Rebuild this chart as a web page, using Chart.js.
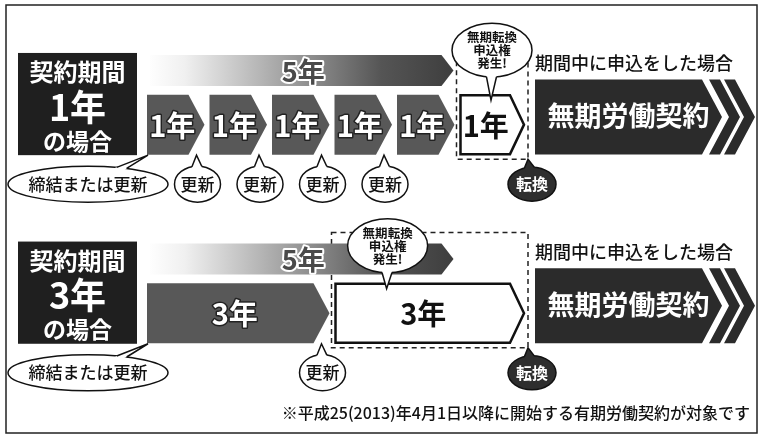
<!DOCTYPE html>
<html lang="ja">
<head>
<meta charset="utf-8">
<title>無期転換ルール</title>
<script src="https://cdn.jsdelivr.net/npm/chart.js@4.4.1/dist/chart.umd.min.js"></script>
<style>
    body { margin: 0; background: #fff; }
    #wrap { width: 760px; height: 439px; }
</style>
</head>
<body>
<div id="wrap"><canvas id="chart" width="760" height="439"></canvas></div>
<script>
// 契約期間ごとの行
const rowTerms = ['1年', '3年'];
// 有期労働契約の各期間（年）
const contractSpans = [
    [[0, 1], [1, 2], [2, 3], [3, 4], [4, 5]],
    [[0, 3]]
];
const contractLabels = [['1年', '1年', '1年', '1年', '1年'], ['3年']];
// 通算5年の帯
const totalSpans = [[0, 5], [0, 5]];
const totalLabel = '5年';
// 無期転換申込権が発生する期間
const applySpans = [[5, 6], [3, 6]];
const applyLabels = ['1年', '3年'];
// 無期労働契約
const mukiSpans = [[6, 9.2], [6, 9.2]];
const mukiLabel = '無期労働契約';
// 更新・転換の時点
const renewAt = [[1, 2, 3, 4], [3]];
const tenkanAt = [6, 6];

const noteText = '※平成25(2013)年4月1日以降に開始する有期労働契約が対象です';

// レイアウト（行の位置など）
const rowLane = [0, 3.48];
const applyNote = [{ at: 5.52, dy: -44 }, { at: 3.85, dy: -37 }];
const JP = '"Noto Sans CJK JP", "Noto Sans", sans-serif';

function buildData() {
    let band = [], contract = [], apply = [], muki = [];
    rowTerms.forEach(function (t, r) {
        band.push({ x: totalSpans[r], y: rowLane[r], row: r });
        contractSpans[r].forEach(function (s, j) {
            contract.push({ x: s, y: rowLane[r] + 1, row: r, label: contractLabels[r][j] });
        });
        apply.push({ x: applySpans[r], y: rowLane[r] + 1, row: r, label: applyLabels[r] });
        muki.push({ x: mukiSpans[r], y: rowLane[r] + 0.86, row: r });
    });
    return { band: band, contract: contract, apply: apply, muki: muki };
}

function geom(chart, i) {
    let meta = chart.getDatasetMeta(i);
    return meta.data.map(function (el, j) {
        let p = el.getProps(['x', 'y', 'base', 'height'], true);
        return {
            x0: Math.min(p.base, p.x), x1: Math.max(p.base, p.x),
            y: p.y, h: p.height, raw: chart.data.datasets[i].data[j]
        };
    });
}

function chevron(ctx, x0, x1, yc, h, tip) {
    ctx.beginPath();
    ctx.moveTo(x0, yc - h / 2);
    ctx.lineTo(x1 - tip, yc - h / 2);
    ctx.lineTo(x1, yc);
    ctx.lineTo(x1 - tip, yc + h / 2);
    ctx.lineTo(x0, yc + h / 2);
    ctx.closePath();
}

function text(ctx, s, x, y, font, fill, stroke, sw, align) {
    ctx.save();
    ctx.font = font;
    ctx.textAlign = align || 'center';
    ctx.textBaseline = 'middle';
    if (stroke) {
        ctx.lineJoin = 'round';
        ctx.strokeStyle = stroke;
        ctx.lineWidth = sw;
        ctx.strokeText(s, x, y);
    }
    ctx.fillStyle = fill;
    ctx.fillText(s, x, y);
    ctx.restore();
}

function bubble(ctx, cx, cy, rx, ry, tx, ty, fill, lw) {
    let th = Math.atan2((ty - cy) / ry, (tx - cx) / rx);
    let len = Math.sqrt(Math.pow(rx * Math.sin(th), 2) + Math.pow(ry * Math.cos(th), 2));
    let d = 5 / len;
    let b1 = [cx + rx * Math.cos(th - d), cy + ry * Math.sin(th - d)];
    let b2 = [cx + rx * Math.cos(th + d), cy + ry * Math.sin(th + d)];
    ctx.save();
    ctx.fillStyle = fill;
    ctx.strokeStyle = '#111';
    ctx.lineWidth = lw;
    ctx.beginPath();
    ctx.ellipse(cx, cy, rx, ry, 0, 0, Math.PI * 2);
    ctx.fill();
    ctx.stroke();
    ctx.beginPath();
    ctx.moveTo(b1[0], b1[1]);
    ctx.lineTo(tx, ty);
    ctx.lineTo(b2[0], b2[1]);
    ctx.lineTo(cx, cy);
    ctx.closePath();
    ctx.fill();
    ctx.beginPath();
    ctx.moveTo(b1[0], b1[1]);
    ctx.lineTo(tx, ty);
    ctx.lineTo(b2[0], b2[1]);
    ctx.stroke();
    ctx.restore();
}

const diagramPlugin = {
    id: 'diagram',
    afterDatasetsDraw: function (chart) {
        const ctx = chart.ctx;
        const xs = chart.scales.x;
        let band = geom(chart, 0), contract = geom(chart, 1), apply = geom(chart, 2), muki = geom(chart, 3);

        // 外枠
        ctx.save();
        ctx.strokeStyle = '#222';
        ctx.lineWidth = 1.5;
        ctx.strokeRect(6, 5, 751, 428);
        ctx.restore();

        rowTerms.forEach(function (term, r) {
            let b = band[r], a = apply[r], m = muki[r];
            let mainTop = a.y - a.h / 2, mainBottom = a.y + a.h / 2;
            let bandTop = b.y - b.h / 2;
            let x0 = xs.getPixelForValue(0);

            // 左の見出し
            ctx.fillStyle = '#1f1f1f';
            ctx.fillRect(x0 - 129, bandTop - 2, 119, mainBottom - bandTop + 2);
            let cx = x0 - 69.5;
            text(ctx, '契約期間', cx, bandTop + 17, 'bold 24px ' + JP, '#fff');
            text(ctx, term, cx, bandTop + 52, 'bold 36px ' + JP, '#fff');
            text(ctx, 'の場合', cx, bandTop + 86, 'bold 23px ' + JP, '#fff');

            // 破線の枠
            ctx.save();
            ctx.setLineDash([5, 4]);
            ctx.strokeStyle = '#222';
            ctx.lineWidth = 1.5;
            ctx.strokeRect(a.x0 - 3, bandTop - 11, a.x1 - a.x0 + 9, mainBottom + 4 - (bandTop - 11));
            ctx.restore();

            // 5年の帯
            let g = ctx.createLinearGradient(b.x0, 0, b.x1, 0);
            g.addColorStop(0, 'rgba(255,255,255,1)');
            g.addColorStop(0.12, '#f0f0f0');
            g.addColorStop(0.45, '#a0a0a0');
            g.addColorStop(0.75, '#555');
            g.addColorStop(1, '#3c3c3c');
            ctx.fillStyle = g;
            chevron(ctx, b.x0 + 3, b.x1 - 6, b.y, b.h, 12);
            ctx.fill();
            text(ctx, totalLabel, (b.x0 + b.x1) / 2, b.y + 1, 'bold 27px ' + JP, '#4a4a4a', '#fff', 4);

            // 申込権発生の期間（白）
            ctx.save();
            ctx.fillStyle = '#fff';
            ctx.strokeStyle = '#111';
            ctx.lineWidth = 2.5;
            chevron(ctx, a.x0 + 1, a.x1 + 2, a.y, a.h - 2, 14);
            ctx.fill();
            ctx.stroke();
            ctx.restore();
            text(ctx, a.raw.label, (a.x0 + a.x1 - 10) / 2, a.y + 1, 'bold 29px ' + JP, '#111');

            // 無期労働契約
            let mx0 = m.x0 + 13, tip = 20;
            ctx.fillStyle = '#2b2b2b';
            chevron(ctx, mx0, m.x1, m.y, m.h, tip);
            ctx.fill();
            [7, 22].forEach(function (off) {
                let w = 11, top = m.y - m.h / 2, bot = m.y + m.h / 2;
                ctx.beginPath();
                ctx.moveTo(m.x1 - tip + off, top);
                ctx.lineTo(m.x1 - tip + off + w, top);
                ctx.lineTo(m.x1 + off + w, m.y);
                ctx.lineTo(m.x1 - tip + off + w, bot);
                ctx.lineTo(m.x1 - tip + off, bot);
                ctx.lineTo(m.x1 + off, m.y);
                ctx.closePath();
                ctx.fill();
            });
            text(ctx, mukiLabel, (mx0 + m.x1) / 2, m.y - 1, 'bold 27px ' + JP, '#fff');
            text(ctx, '期間中に申込をした場合', mx0, m.y - m.h / 2 - 16, '500 18px ' + JP, '#111', null, 0, 'left');
        });

        // 有期契約の各期間
        contract.forEach(function (c) {
            ctx.fillStyle = '#585858';
            chevron(ctx, c.x0, c.x1 - 5, c.y, c.h, 16);
            ctx.fill();
            text(ctx, c.raw.label, (c.x0 + c.x1 - 12) / 2, c.y + 1, 'bold 29px ' + JP, '#fff', '#222', 3);
        });

        // 吹き出し
        rowTerms.forEach(function (term, r) {
            let a = apply[r];
            let mainTop = a.y - a.h / 2, mainBottom = a.y + a.h / 2;
            let by = mainBottom + 29;
            let x0 = xs.getPixelForValue(0);

            bubble(ctx, x0 - 59, by, 80, 18, x0 + 1, mainBottom, '#fff', 1.5);
            text(ctx, '締結または更新', x0 - 59, by, '500 17px ' + JP, '#111');

            renewAt[r].forEach(function (t) {
                let px = xs.getPixelForValue(t);
                bubble(ctx, px - 12, by, 23, 18, px - 13, mainBottom, '#fff', 1.5);
                text(ctx, '更新', px - 12, by, '500 17px ' + JP, '#111');
            });

            let tx = xs.getPixelForValue(tenkanAt[r]);
            bubble(ctx, tx + 10, by, 24, 17, tx + 6, mainBottom + 4, '#2e2e2e', 1.5);
            text(ctx, '転換', tx + 10, by, 'bold 16px ' + JP, '#fff');

            let nx = xs.getPixelForValue(applyNote[r].at);
            let ny = mainTop + applyNote[r].dy;
            bubble(ctx, nx, ny, 40, 27, nx - 1, mainTop + 6, '#fff', 1.5);
            text(ctx, '無期転換', nx, ny - 13, 'bold 12.5px ' + JP, '#111');
            text(ctx, '申込権', nx, ny, 'bold 12.5px ' + JP, '#111');
            text(ctx, '発生!', nx, ny + 13, 'bold 12.5px ' + JP, '#111');
        });

        // 注記
        text(ctx, noteText, 750, 413, '500 16px ' + JP, '#111', null, 0, 'right');
    }
};

const d = buildData();
const clear = 'rgba(0,0,0,0)';

new Chart(document.getElementById('chart'), {
    type: 'bar',
    data: {
        datasets: [
            { label: '通算期間', data: d.band, barThickness: 31, backgroundColor: clear },
            { label: '有期契約', data: d.contract, barThickness: 60, backgroundColor: clear },
            { label: '申込権発生', data: d.apply, barThickness: 61, backgroundColor: clear },
            { label: '無期労働契約', data: d.muki, barThickness: 75, backgroundColor: clear }
        ]
    },
    options: {
        responsive: false,
        animation: false,
        events: [],
        indexAxis: 'y',
        grouped: false,
        layout: { padding: 0 },
        scales: {
            x: { type: 'linear', min: -2.352, max: 9.808, display: false },
            y: { type: 'linear', min: -1.3, max: 6.8, reverse: true, offset: false, display: false }
        },
        plugins: {
            legend: { display: false },
            tooltip: { enabled: false }
        }
    },
    plugins: [diagramPlugin]
});
</script>
</body>
</html>
